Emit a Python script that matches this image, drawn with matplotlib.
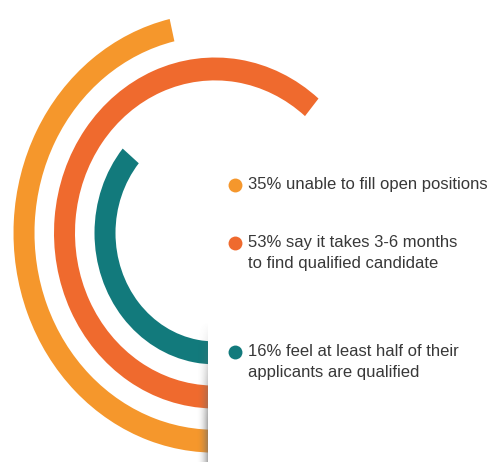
import matplotlib.pyplot as plt
import numpy as np
from matplotlib.patches import Rectangle

# survey figures shown in the legend
labels = ['35% unable to fill open positions',
          '53% say it takes 3-6 months\nto find qualified candidate',
          '16% feel at least half of their\napplicants are qualified']
colors = ['#F5972C', '#EF6A2E', '#127A7C']

# visible end of each ring (degrees, counter-clockwise from east); the rest runs under the panel
arc_start = [103, 50, 140]
arc_stop = [300, 300, 300]
ring = [2, 1, 0]  # outer, middle, inner

W, H = 492, 462
fig = plt.figure(figsize=(W / 100, H / 100), dpi=100)

# rings: centre at (215, 233) px, slightly stretched vertically
cx, cy, R, k = 215, 233, 215, 1.09
aw, ah = 2 * R, 2 * R * k
ax = fig.add_axes([(cx - R) / W, (H - cy - ah / 2) / H, aw / W, ah / H], projection='polar')
ax.set_aspect('auto')
for i in range(len(labels)):
    r_mid = 110 + 40.5 * ring[i]
    ax.bar(np.radians(arc_start[i]), 21, width=np.radians(arc_stop[i] - arc_start[i]),
           bottom=r_mid - 10.5, align='edge', color=colors[i], linewidth=0)
ax.set_ylim(0, R)
ax.set_axis_off()

# overlay in pixel coordinates: white panel with shadow + legend
ov = fig.add_axes([0, 0, 1, 1], zorder=2)
ov.set_axis_off()
ov.add_patch(Rectangle((208, 145), W - 208, H - 145, facecolor='white', edgecolor='none', zorder=2))

sh = np.zeros((200, 12, 4))
sh[..., :3] = 0.42
xa = np.linspace(0, 1, 12) ** 2
ya = np.clip(np.linspace(-0.6, 1.4, 200), 0, 1)
sh[..., 3] = 0.55 * np.outer(ya, xa)
ov.imshow(sh, extent=[196, 208, H, H - 200], aspect='auto', zorder=1, interpolation='bilinear')

dot_y = [185, 243, 352]
for i in range(len(labels)):
    ov.scatter(235, dot_y[i], s=100, color=colors[i], zorder=3, linewidths=0)
    for j, line in enumerate(labels[i].split('\n')):
        ov.text(248, dot_y[i] + 20.5 * j, line, va='center', ha='left', fontsize=12,
                color='#383838', family='Liberation Sans', zorder=3)

ov.set_xlim(0, W)
ov.set_ylim(H, 0)

fig.savefig('out.png', dpi=100)
